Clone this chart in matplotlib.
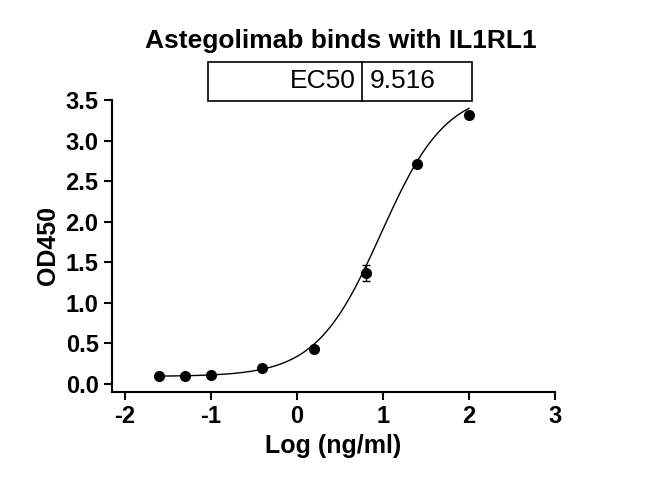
import numpy as np
import matplotlib
matplotlib.use("Agg")
import matplotlib.pyplot as plt
from matplotlib.patches import Rectangle

log_conc = [-1.6, -1.3, -1.0, -0.4, 0.2, 0.8, 1.4, 2.0]
od450 = [0.09, 0.10, 0.11, 0.19, 0.43, 1.37, 2.71, 3.32]
err = [0.01, 0.01, 0.01, 0.01, 0.02, 0.10, 0.03, 0.02]
# 4PL fit parameters
bottom, top, ec50, hill = 0.09, 3.62, 9.516, 1.15

plt.rcParams['font.family'] = ['Liberation Sans', 'DejaVu Sans']
plt.rcParams['axes.unicode_minus'] = False
fig = plt.figure(figsize=(6.5, 5.03), dpi=100)
ax = fig.add_axes([0.172, 0.221, 0.682, 0.580])

xf = np.linspace(-1.6, 2.0, 300)
yf = bottom + (top - bottom) / (1 + 10 ** ((np.log10(ec50) - xf) * hill))
ax.plot(xf, yf, color='black', lw=1)
ax.errorbar(log_conc, od450, yerr=err, fmt='o', color='black', ms=7, capsize=3, elinewidth=1)

ax.set_xlim(-2.15, 3.0)
ax.set_ylim(-0.1, 3.5)
ax.set_xticks([-2, -1, 0, 1, 2, 3])
ax.set_yticks(np.arange(0, 3.51, 0.5))
ax.set_yticklabels([f"{v:.1f}" for v in np.arange(0, 3.51, 0.5)])
for s in ['top', 'right']:
    ax.spines[s].set_visible(False)
for s in ['left', 'bottom']:
    ax.spines[s].set_linewidth(1.5)
ax.tick_params(width=1.5, length=6, labelsize=17)
for lab in ax.get_xticklabels() + ax.get_yticklabels():
    lab.set_fontweight('bold')
ax.set_xlabel('Log (ng/ml)', fontsize=18, fontweight='bold')
ax.set_ylabel('OD450', fontsize=18, fontweight='bold')
fig.text(0.525, 0.918, 'Astegolimab binds with IL1RL1', ha='center', va='center',
         fontsize=19, fontweight='bold')

# EC50 table
x0, x1, xm = 208/650, 472/650, 362/650
y0, y1 = 1 - 101/503, 1 - 62/503
fig.add_artist(Rectangle((x0, y0), x1 - x0, y1 - y0, transform=fig.transFigure,
                         fill=False, lw=1.2, color='black'))
fig.add_artist(plt.Line2D([xm, xm], [y0, y1], transform=fig.transFigure, color='black', lw=1.2))
fig.text(xm - 0.01, (y0 + y1) / 2, 'EC50', ha='right', va='center', fontsize=19)
fig.text(xm + 0.012, (y0 + y1) / 2, f'{ec50}', ha='left', va='center', fontsize=19)

fig.savefig('out.png', dpi=100)
